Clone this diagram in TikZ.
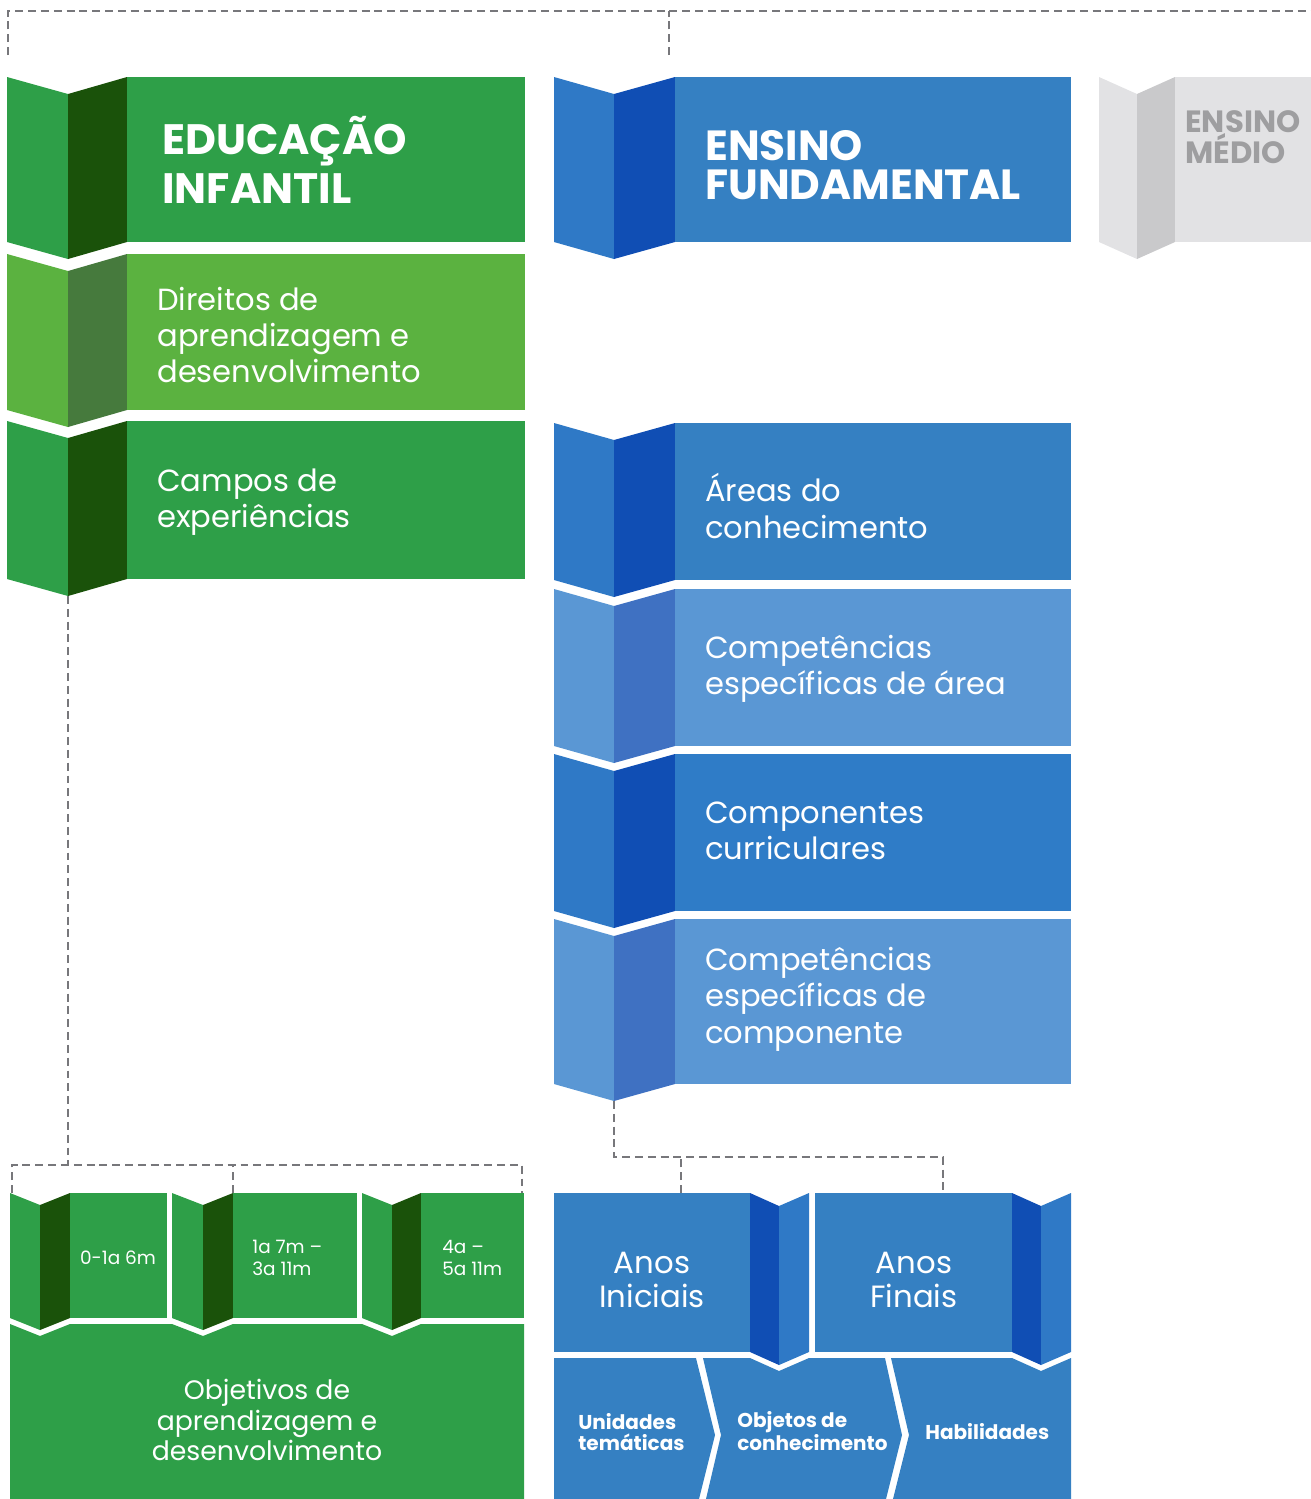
\documentclass[tikz,border=0pt]{standalone}
\usepackage{fontspec}
\setmainfont{Poppins}
\usetikzlibrary{positioning}

\definecolor{eiMain}{HTML}{2E9F48}
\definecolor{eiPanel}{HTML}{2E9F48}
\definecolor{eiDark}{HTML}{1A520A}
\definecolor{dirMain}{HTML}{5BB240}
\definecolor{dirPanel}{HTML}{5BB240}
\definecolor{dirDark}{HTML}{467A3D}
\definecolor{efMain}{HTML}{3580C2}
\definecolor{efPanel}{HTML}{2F79C6}
\definecolor{efDark}{HTML}{104EB4}
\definecolor{eflMain}{HTML}{5A97D4}
\definecolor{eflPanel}{HTML}{5A97D4}
\definecolor{eflDark}{HTML}{3F71C2}
\definecolor{ccMain}{HTML}{2F7CC7}
\definecolor{ccPanel}{HTML}{2F79C6}
\definecolor{ccDark}{HTML}{104EB4}
\definecolor{emMain}{HTML}{E2E2E4}
\definecolor{emPanel}{HTML}{E2E2E4}
\definecolor{emDark}{HTML}{C9C9CB}
\definecolor{emText}{HTML}{9E9EA0}
\definecolor{dashGray}{HTML}{77777B}

% folded banner: name, x0, fold, x2, x3, top, bottom, tone, depth
\newcommand{\foldbox}[9]{%
  \fill[#8Panel] (#2,#6) -- (#3,#6+#9) -- (#3,#7+#9) -- (#2,#7) -- cycle;
  \fill[#8Dark] (#3,#6+#9) -- (#4,#6) -- (#4,#7) -- (#3,#7+#9) -- cycle;
  \fill[#8Main] (#4,#6) rectangle (#5,#7);
  \coordinate (#1-tip) at (#3,#7+#9);
}
% box folded on its right side
\newcommand{\anosbox}[8]{%
  \fill[efMain] (#2,#6) rectangle (#3,#7);
  \fill[efDark] (#3,#6) -- (#4,#6+#8) -- (#4,#7+#8) -- (#3,#7) -- cycle;
  \fill[efPanel] (#4,#6+#8) -- (#5,#6) -- (#5,#7) -- (#4,#7+#8) -- cycle;
}

\begin{document}
\begin{tikzpicture}[x=0.02cm, y=-0.02cm,
  txt/.style={text=white, anchor=west, align=left, inner sep=0pt},
  ctxt/.style={text=white, align=center, inner sep=0pt},
  dashln/.style={draw=dashGray, line width=1.6pt, dash pattern=on 4.5pt off 2.8pt}]
  \useasboundingbox (0,0) rectangle (1311,1499);

  \foldbox{ei}{7}{68}{127}{525}{77}{242}{ei}{17}
  \foldbox{dir}{7}{68}{127}{525}{254}{410}{dir}{17}
  \foldbox{campos}{7}{68}{127}{525}{421}{579}{ei}{17}
  \foldbox{ef}{554}{614}{675}{1071}{77}{242}{ef}{17}
  \foldbox{areas}{554}{614}{675}{1071}{423}{580}{ef}{17}
  \foldbox{careas}{554}{614}{675}{1071}{589}{746}{efl}{17}
  \foldbox{comp}{554}{614}{675}{1071}{754}{911}{cc}{17}
  \foldbox{ccomp}{554}{614}{675}{1071}{919}{1084}{efl}{17}
  \foldbox{em}{1099}{1137}{1175}{1311}{77}{242}{em}{17}
  \foldbox{age1}{10}{40}{70}{167}{1193}{1318}{ei}{12}
  \foldbox{age2}{172}{203}{233}{357}{1193}{1318}{ei}{12}
  \foldbox{age3}{362}{392}{421}{524}{1193}{1318}{ei}{12}
  \anosbox{ai}{554}{750}{779}{809}{1193}{1352}{13}
  \anosbox{af}{815}{1012}{1041}{1071}{1193}{1352}{13}

  \fill[eiMain] (10,1324) -- (40,1336) -- (70,1324) -- (172,1324) -- (203,1336)
    -- (233,1324) -- (362,1324) -- (392,1336) -- (421,1324) -- (524,1324)
    -- (524,1499) -- (10,1499) -- cycle;
  \fill[efMain] (554,1358) -- (696,1358) -- (715,1435) -- (699,1499) -- (554,1499) -- cycle;
  \fill[efMain] (703,1358) -- (750,1358) -- (779,1371) -- (809,1358) -- (885,1358)
    -- (902,1435) -- (886,1499) -- (706,1499) -- (721,1435) -- cycle;
  \fill[efMain] (891,1358) -- (1012,1358) -- (1041,1371) -- (1071,1358) -- (1071,1499)
    -- (893,1499) -- (909,1435) -- cycle;

  \node[txt, font=\fontsize{24.2}{27.5}\selectfont\bfseries] (eiTxt) at (162,160) {EDUCAÇÃO\\INFANTIL};
  \node[txt, font=\fontsize{24}{22}\selectfont\bfseries] (efTxt) at (705,165) {ENSINO\\FUNDAMENTAL};
  \node[txt, text=emText, font=\fontsize{17.5}{17.6}\selectfont\bfseries] (emTxt) at (1185,137) {ENSINO\\MÉDIO};
  \node[txt, font=\fontsize{17.4}{20.7}\selectfont] (dirTxt) at (157,335) {Direitos de\\aprendizagem e\\desenvolvimento};
  \node[txt, font=\fontsize{17.4}{20.7}\selectfont] (camposTxt) at (157,502) {Campos de\\experiências};
  \node[txt, font=\fontsize{17.4}{20.7}\selectfont] (areasTxt) at (705,506) {Áreas do\\conhecimento};
  \node[txt, font=\fontsize{17.4}{20.7}\selectfont] (careasTxt) at (705,669) {Competências\\específicas de área};
  \node[txt, font=\fontsize{17.4}{20.7}\selectfont] (compTxt) at (705,831) {Componentes\\curriculares};
  \node[txt, font=\fontsize{17.4}{20.7}\selectfont] (ccompTxt) at (705,999) {Competências\\específicas de\\componente};
  \node[ctxt, font=\fontsize{10.5}{12.5}\selectfont] (age1Txt) at (118,1258) {0-1a 6m};
  \node[txt, font=\fontsize{10.5}{12.5}\selectfont] (age2Txt) at (252,1258) {1a 7m –\\3a 11m};
  \node[txt, font=\fontsize{10.5}{12.5}\selectfont] (age3Txt) at (442,1258) {4a –\\5a 11m};
  \node[ctxt, font=\fontsize{15.2}{17.3}\selectfont] (objTxt) at (267,1420) {Objetivos de\\aprendizagem e\\desenvolvimento};
  \node[ctxt, font=\fontsize{17.5}{19.3}\selectfont] (aiTxt) at (652,1280) {Anos\\Iniciais};
  \node[ctxt, font=\fontsize{17.5}{19.3}\selectfont] (afTxt) at (914,1280) {Anos\\Finais};
  \node[txt, font=\fontsize{11.4}{12}\selectfont\bfseries] (uniTxt) at (578,1432) {Unidades\\temáticas};
  \node[txt, font=\fontsize{11.4}{12}\selectfont\bfseries] (objcTxt) at (737,1431) {Objetos de\\conhecimento};
  \node[txt, font=\fontsize{11.4}{12}\selectfont\bfseries] (habTxt) at (925,1432) {Habilidades};

  \coordinate (topL) at (8,55);
  \coordinate (topM) at (669,55);
  \coordinate (topR) at (1311,11);
  \coordinate (ageBar) at (0,1165);
  \coordinate (ageL) at (12,1193);
  \coordinate (ageM) at (233,1193);
  \coordinate (ageR) at (522,1193);
  \coordinate (anosBar) at (0,1157);
  \coordinate (aiTop) at (681,1193);
  \coordinate (afTop) at (943,1193);

  \draw[dashln] (topL) |- (topR);
  \draw[dashln] (topM) -- (topM |- topR);
  \draw[dashln] (campos-tip) -- (campos-tip |- ageBar);
  \draw[dashln] (ageL) |- (ageBar -| ageR) -- (ageR);
  \draw[dashln] (ageM) -- (ageM |- ageBar);
  \draw[dashln] (ccomp-tip) |- (anosBar -| afTop) -- (afTop);
  \draw[dashln] (aiTop) -- (aiTop |- anosBar);
\end{tikzpicture}
\end{document}
